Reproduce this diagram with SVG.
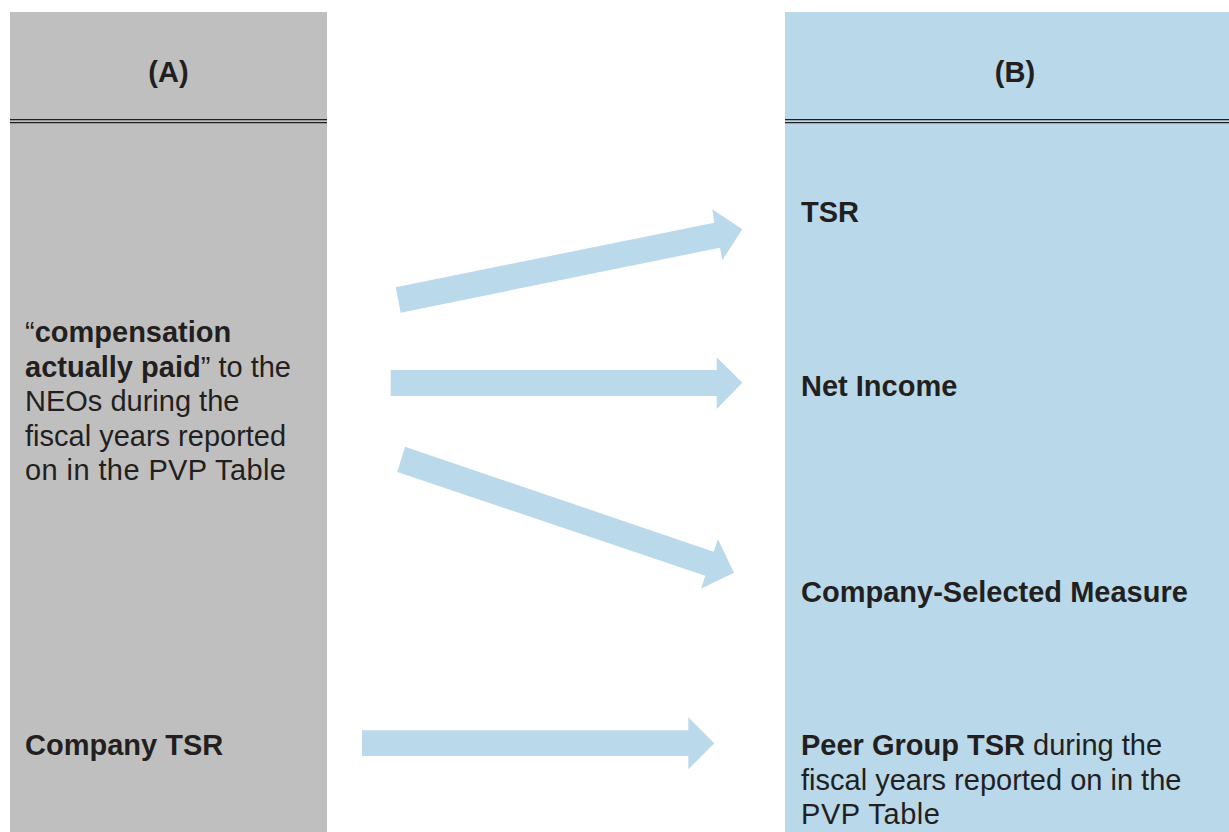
<svg xmlns="http://www.w3.org/2000/svg" width="1229" height="832" viewBox="0 0 1229 832">
  <style>
    .txt { font-family: "Liberation Sans", Arial, sans-serif; font-size: 29px; fill: #231f20; }
    .b { font-weight: bold; }
    .rule { stroke: #231f20; stroke-width: 1.2; }
    .arrow { fill: #bad9ea; }
  </style>
  <rect width="1229" height="832" fill="#ffffff"/>

  <!-- Column A -->
  <g id="column-a">
    <rect x="10" y="12" width="317" height="820" fill="#bfbfbf"/>
    <line class="rule" x1="10" y1="119.6" x2="327" y2="119.6"/>
    <line class="rule" x1="10" y1="122.6" x2="327" y2="122.6"/>
    <text class="txt b" x="168.5" y="81.5" text-anchor="middle">(A)</text>
  </g>

  <!-- Column B -->
  <g id="column-b">
    <rect x="785" y="12" width="444" height="820" fill="#b9d8e9"/>
    <line class="rule" x1="785" y1="119.6" x2="1229" y2="119.6"/>
    <line class="rule" x1="785" y1="122.6" x2="1229" y2="122.6"/>
    <text class="txt b" x="1015" y="81.5" text-anchor="middle">(B)</text>
  </g>

  <g id="node-cap">
    <text class="txt" x="25" y="342"><tspan>“</tspan><tspan class="b">compensation</tspan></text>
    <text class="txt" x="25" y="376.5"><tspan class="b">actually paid</tspan><tspan>” to the</tspan></text>
    <text class="txt" x="25" y="411">NEOs during the</text>
    <text class="txt" x="25" y="445.5">fiscal years reported</text>
    <text class="txt" x="25" y="480" textLength="261" lengthAdjust="spacing">on in the PVP Table</text>
  </g>

  <g id="node-company-tsr">
    <text class="txt b" x="25" y="755">Company TSR</text>
  </g>

  <g id="node-tsr">
    <text class="txt b" x="801" y="221.5">TSR</text>
  </g>

  <g id="node-net-income">
    <text class="txt b" x="801" y="395.5">Net Income</text>
  </g>

  <g id="node-csm">
    <text class="txt b" x="801" y="601.5">Company-Selected Measure</text>
  </g>

  <g id="node-peer-tsr">
    <text class="txt" x="801" y="755"><tspan class="b">Peer Group TSR</tspan><tspan> during the</tspan></text>
    <text class="txt" x="801" y="789.5">fiscal years reported on in the</text>
    <text class="txt" x="801" y="824" textLength="139" lengthAdjust="spacing">PVP Table</text>
  </g>

  <!-- Connectors: block arrows -->
  <g id="connectors">
    <polygon class="arrow" points="395.7,287.3 714.3,222.7 712.3,209.3 742.3,229.3 722.3,260.3 720,247.7 400.7,312.7"/>
    <polygon class="arrow" points="390.7,370 716.7,370 716.7,357.3 742.3,382.7 716.7,409 716.7,396 390.7,396"/>
    <polygon class="arrow" points="405,446.7 713.7,551.7 718,539.3 734,572.7 701,588.7 705.3,575.7 397.3,472"/>
    <polygon class="arrow" points="362,730.3 688.3,730.3 688.3,717.3 714.3,743.3 688.3,769.3 688.3,756 362,756"/>
  </g>
</svg>
